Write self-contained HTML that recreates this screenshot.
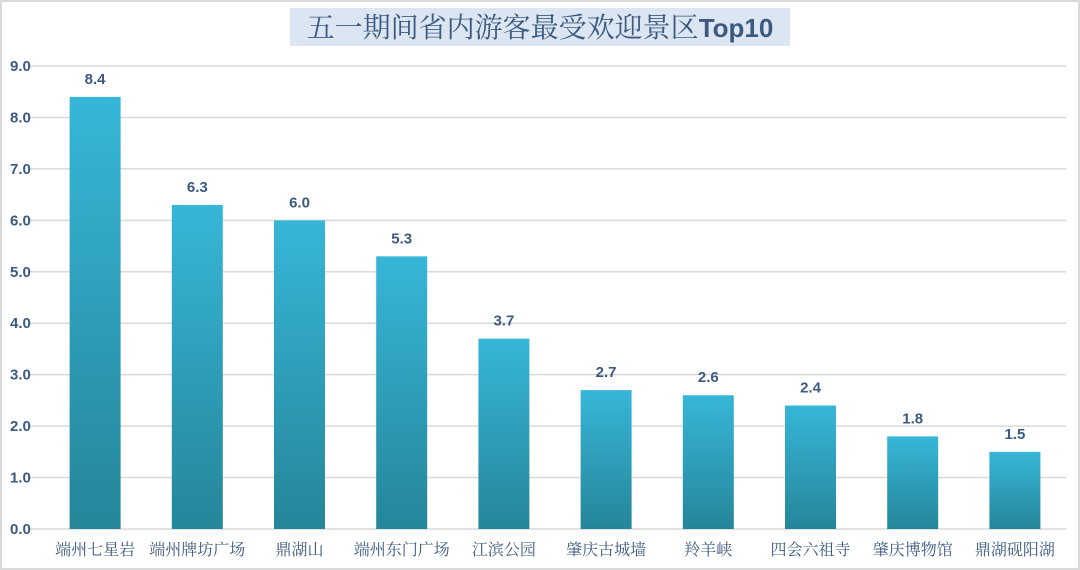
<!DOCTYPE html>
<html><head><meta charset="utf-8">
<style>
html,body{margin:0;padding:0;background:#fff;}
#wrap{position:relative;width:1080px;height:570px;overflow:hidden;}
svg{position:absolute;left:0;top:0;}
</style></head>
<body>
<div id="wrap">
<svg id="chart" width="1080" height="570">
  <defs>
    <linearGradient id="bg" x1="0" y1="0" x2="0" y2="1">
      <stop offset="0" stop-color="#37b6d8"/>
      <stop offset="1" stop-color="#258699"/>
    </linearGradient>
  </defs>
  <rect x="1" y="1" width="1078" height="568" fill="#fff" stroke="#d9d9d9" stroke-width="2"/>
  <rect x="290" y="8" width="500" height="38" fill="#dce6f2"/>
  <text x="540" y="37" text-anchor="middle" font-size="28" fill="#3c5a80" font-family="'Liberation Serif','Noto Serif CJK SC',serif">五一期间省内游客最受欢迎景区<tspan font-family="'Liberation Sans',sans-serif" font-weight="bold" font-size="26">Top10</tspan></text>
  <g id="grid"></g>
  <g id="bars"></g>
</svg>
</div>
<script>
const categories = ["端州七星岩","端州牌坊广场","鼎湖山","端州东门广场","江滨公园","肇庆古城墙","羚羊峡","四会六祖寺","肇庆博物馆","鼎湖砚阳湖"];
const values = [8.4, 6.3, 6.0, 5.3, 3.7, 2.7, 2.6, 2.4, 1.8, 1.5];
const ticks = [0,1,2,3,4,5,6,7,8,9];
const NS = "http://www.w3.org/2000/svg";
const y0 = 529, y9 = 66, yMax = 9;
function yScale(v){ return y0 - (v / yMax) * (y0 - y9); }
const xStart = 44, band = 102.2, barW = 51;
function xCenter(i){ return xStart + band * (i + 0.5); }
const grid = document.getElementById('grid');
const bars = document.getElementById('bars');
ticks.forEach(t => {
  const y = yScale(t);
  const l = document.createElementNS(NS, 'line');
  l.setAttribute('x1', 30); l.setAttribute('x2', 1066);
  l.setAttribute('y1', y); l.setAttribute('y2', y);
  l.setAttribute('stroke', '#d9d9d9'); l.setAttribute('stroke-width', 1.5);
  
  
  grid.appendChild(l);
  const tx = document.createElementNS(NS, 'text');
  tx.setAttribute('x', 10); tx.setAttribute('y', y + 5);
  tx.setAttribute('font-size', 15); tx.setAttribute('font-weight', 'bold');
  tx.setAttribute('fill', '#3c5a80');
  tx.setAttribute('font-family', "'Liberation Sans',sans-serif");
  tx.textContent = t.toFixed(1);
  
  
  grid.appendChild(tx);
});
values.forEach((v, i) => {
  const cx = xCenter(i);
  const r = document.createElementNS(NS, 'rect');
  r.setAttribute('x', cx - barW/2); r.setAttribute('width', barW);
  r.setAttribute('y', yScale(v)); r.setAttribute('height', y0 - yScale(v));
  r.setAttribute('fill', 'url(#bg)');
  
  
  bars.appendChild(r);
  const vl = document.createElementNS(NS, 'text');
  vl.setAttribute('x', cx); vl.setAttribute('y', yScale(v) - 13);
  vl.setAttribute('text-anchor', 'middle');
  vl.setAttribute('font-size', 15); vl.setAttribute('font-weight', 'bold');
  vl.setAttribute('fill', '#3c5a80');
  vl.setAttribute('font-family', "'Liberation Sans',sans-serif");
  vl.textContent = v.toFixed(1);
  
  
  bars.appendChild(vl);
  const cl = document.createElementNS(NS, 'text');
  cl.setAttribute('x', cx); cl.setAttribute('y', 555);
  cl.setAttribute('text-anchor', 'middle');
  cl.setAttribute('font-size', 16);
  cl.setAttribute('fill', '#3c5a80');
  cl.setAttribute('font-family', "'Liberation Serif','Noto Serif CJK SC',serif");
  cl.textContent = categories[i];
  
  
  bars.appendChild(cl);
});
</script>
</body></html>
